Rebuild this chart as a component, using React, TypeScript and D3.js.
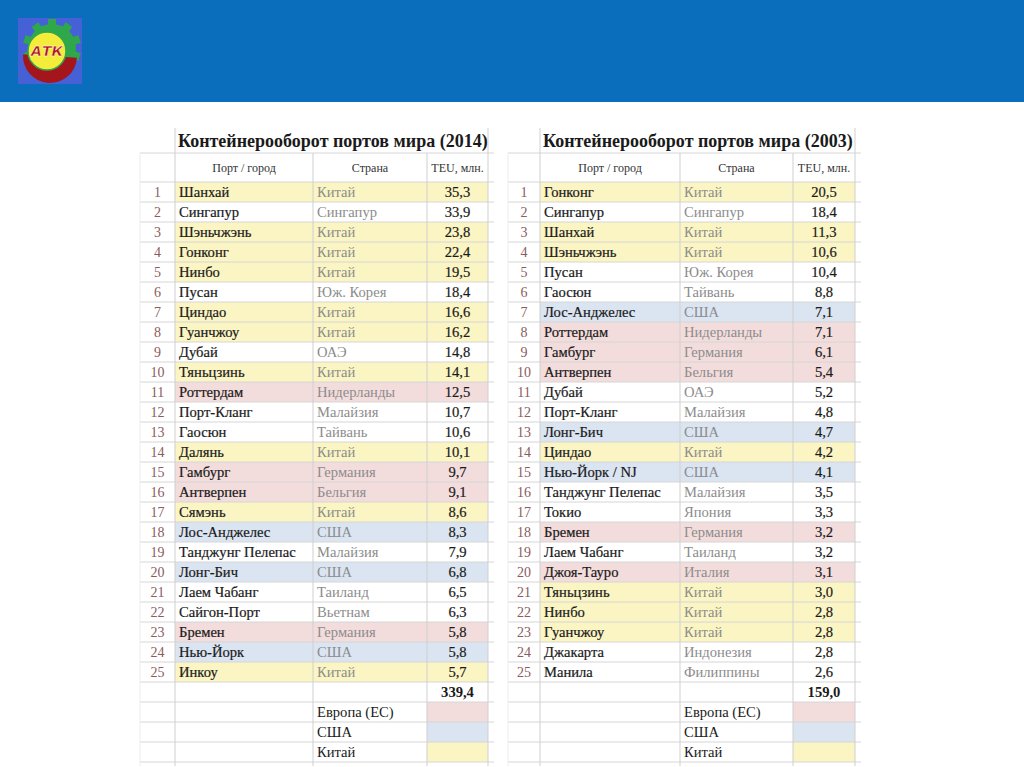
import React from 'react';
import * as d3 from 'd3';

// 2014
const ports2014 = ['Шанхай', 'Сингапур', 'Шэньчжэнь', 'Гонконг', 'Нинбо', 'Пусан', 'Циндао', 'Гуанчжоу', 'Дубай', 'Тяньцзинь', 'Роттердам', 'Порт-Кланг', 'Гаосюн', 'Далянь', 'Гамбург', 'Антверпен', 'Сямэнь', 'Лос-Анджелес', 'Танджунг Пелепас', 'Лонг-Бич', 'Лаем Чабанг', 'Сайгон-Порт', 'Бремен', 'Нью-Йорк', 'Инкоу'];
const countries2014 = ['Китай', 'Сингапур', 'Китай', 'Китай', 'Китай', 'Юж. Корея', 'Китай', 'Китай', 'ОАЭ', 'Китай', 'Нидерланды', 'Малайзия', 'Тайвань', 'Китай', 'Германия', 'Бельгия', 'Китай', 'США', 'Малайзия', 'США', 'Таиланд', 'Вьетнам', 'Германия', 'США', 'Китай'];
const teu2014 = ['35,3', '33,9', '23,8', '22,4', '19,5', '18,4', '16,6', '16,2', '14,8', '14,1', '12,5', '10,7', '10,6', '10,1', '9,7', '9,1', '8,6', '8,3', '7,9', '6,8', '6,5', '6,3', '5,8', '5,8', '5,7'];
const total2014 = '339,4';

// 2003
const ports2003 = ['Гонконг', 'Сингапур', 'Шанхай', 'Шэньчжэнь', 'Пусан', 'Гаосюн', 'Лос-Анджелес', 'Роттердам', 'Гамбург', 'Антверпен', 'Дубай', 'Порт-Кланг', 'Лонг-Бич', 'Циндао', 'Нью-Йорк / NJ', 'Танджунг Пелепас', 'Токио', 'Бремен', 'Лаем Чабанг', 'Джоя-Тауро', 'Тяньцзинь', 'Нинбо', 'Гуанчжоу', 'Джакарта', 'Манила'];
const countries2003 = ['Китай', 'Сингапур', 'Китай', 'Китай', 'Юж. Корея', 'Тайвань', 'США', 'Нидерланды', 'Германия', 'Бельгия', 'ОАЭ', 'Малайзия', 'США', 'Китай', 'США', 'Малайзия', 'Япония', 'Германия', 'Таиланд', 'Италия', 'Китай', 'Китай', 'Китай', 'Индонезия', 'Филиппины'];
const teu2003 = ['20,5', '18,4', '11,3', '10,6', '10,4', '8,8', '7,1', '7,1', '6,1', '5,4', '5,2', '4,8', '4,7', '4,2', '4,1', '3,5', '3,3', '3,2', '3,2', '3,1', '3,0', '2,8', '2,8', '2,8', '2,6'];
const total2003 = '159,0';

const legendLabels = ['Европа (ЕС)', 'США', 'Китай'];
const legendKeys = ['eu', 'us', 'cn'];
const headers = ['Порт / город', 'Страна', 'TEU, млн.'];

const euCountries = ['Нидерланды', 'Германия', 'Бельгия', 'Италия'];
const regionOf = (c: string) =>
  c === 'Китай' ? 'cn' : c === 'США' ? 'us' : euCountries.includes(c) ? 'eu' : 'none';

const fillColor = d3.scaleOrdinal<string, string>()
  .domain(['eu', 'us', 'cn', 'none'])
  .range(['#f3dcdc', '#dae5f1', '#fbf5c4', 'none']);

const serif = '"Liberation Serif", "DejaVu Serif", serif';

const rowY = d3.scaleBand<number>()
  .domain(d3.range(29))
  .range([182, 762]);

interface TableProps {
  x0: number;
  cols: number[]; // boundaries: index | port | country | teu | end
  title: string;
  ports: string[];
  countries: string[];
  teu: string[];
  total: string;
}

const Table = ({ x0, cols, title, ports, countries, teu, total }: TableProps) => {
  const [cIdx, cPort, cCountry, cTeu, cEnd] = cols;
  const bw = rowY.bandwidth();
  const lines = d3.range(30).map(i => (i < 29 ? rowY(i)! : rowY(28)! + bw));
  const dark = { fill: '#1a1a1a', stroke: '#1a1a1a', strokeWidth: 0.2 };
  return (
    <g>
      {/* fills */}
      {ports.map((p, i) => {
        const f = fillColor(regionOf(countries[i]));
        return f === 'none' ? null : (
          <rect key={'f' + i} x={cPort} y={rowY(i)} width={cEnd - cPort} height={bw} fill={f} />
        );
      })}
      {legendKeys.map((k, i) => (
        <rect key={'lf' + i} x={cTeu} y={rowY(26 + i)} width={cEnd - cTeu} height={bw} fill={fillColor(k)} />
      ))}
      {/* grid */}
      {lines.map((y, i) => (
        <line key={'h' + i} x1={x0} x2={cEnd + 6} y1={y} y2={y} stroke="#d6d6d6" strokeWidth={1} />
      ))}
      <line x1={x0} x2={cEnd + 6} y1={153} y2={153} stroke="#d6d6d6" />
      {[cPort, cCountry, cTeu, cEnd].map((x, i) => (
        <line key={'v' + i} x1={x} x2={x} y1={i === 0 || i === 3 ? 128 : 153} y2={766} stroke="#cfcfcf" />
      ))}
      <line x1={cIdx} x2={cIdx} y1={153} y2={766} stroke="#ececec" />
      {/* title */}
      <text x={cPort + 3} y={147} fontFamily={serif} fontWeight="bold" fontSize={18} fill="#1a1a1a">{title}</text>
      {/* headers */}
      {headers.map((h, i) => (
        <text key={'hd' + i} x={(cols[i + 1] + cols[i + 2]) / 2} y={172} textAnchor="middle"
          fontFamily={serif} fontSize={12} fill="#333">{h}</text>
      ))}
      {/* rows */}
      {ports.map((p, i) => {
        const y = rowY(i)! + bw / 2 + 5;
        return (
          <g key={'r' + i}>
            <text x={(cIdx + cPort) / 2} y={y} textAnchor="middle" fontFamily={serif} fontSize={14} fill="#8a5c5c">{i + 1}</text>
            <text x={cPort + 4} y={y} fontFamily={serif} fontSize={14.6} {...dark}>{p}</text>
            <text x={cCountry + 4} y={y} fontFamily={serif} fontSize={14.6} fill="#8c8c8c">{countries[i]}</text>
            <text x={(cTeu + cEnd) / 2} y={y} textAnchor="middle" fontFamily={serif} fontSize={14.6} {...dark}>{teu[i]}</text>
          </g>
        );
      })}
      <text x={(cTeu + cEnd) / 2} y={rowY(25)! + bw / 2 + 5} textAnchor="middle" fontFamily={serif}
        fontWeight="bold" fontSize={14.6} fill="#1a1a1a">{total}</text>
      {legendLabels.map((l, i) => (
        <text key={'ll' + i} x={cCountry + 4} y={rowY(26 + i)! + bw / 2 + 5} fontFamily={serif} fontSize={14.6} fill="#1a1a1a">{l}</text>
      ))}
    </g>
  );
};

const Logo = () => {
  const cx = 52, cy = 48;
  const teeth = d3.range(10).map(i => {
    const a = (i / 10) * Math.PI * 2 - Math.PI / 2;
    return { x: cx + Math.cos(a) * 25, y: cy + Math.sin(a) * 25, r: (a * 180) / Math.PI };
  });
  const redArc = d3.arc()({ innerRadius: 0, outerRadius: 27, startAngle: Math.PI * 0.52, endAngle: Math.PI * 1.52 } as any);
  return (
    <g>
      <rect x={18} y={18} width={64} height={66} fill="#4660d6" />
      {teeth.map((g, i) => (
        <rect key={i} x={g.x - 4} y={g.y - 4} width={8} height={8} fill="#2fa84c"
          transform={`rotate(${g.r},${g.x},${g.y})`} />
      ))}
      <circle cx={cx} cy={cy} r={24} fill="#2fa84c" />
      <path d={redArc!} transform="translate(50,56)" fill="#a5161c" />
      <circle cx={47} cy={51} r={19} fill="#f4ec3a" stroke="#2fa84c" strokeWidth={1.5} />
      <path d="M31,59 Q40,66 60,61" fill="none" stroke="#f4ec3a" strokeWidth={2} />
      <text x={47} y={56} textAnchor="middle" fontFamily="'DejaVu Sans', sans-serif" fontStyle="italic"
        fontWeight="bold" fontSize={14} fill="#b0141a" stroke="#ffffff" strokeWidth={0.4}>АТК</text>
    </g>
  );
};

export default function App() {
  return (
    <svg width={1024} height={767} style={{ position: 'absolute', left: 0, top: 0, display: 'block' }}>
      <rect x={0} y={0} width={1024} height={767} fill="#ffffff" />
      <rect x={0} y={0} width={1024} height={102} fill="#0a6ebd" />
      <Logo />
      <Table x0={140} cols={[140, 175, 313, 427, 488]} title="Контейнерооборот портов мира (2014)"
        ports={ports2014} countries={countries2014} teu={teu2014} total={total2014} />
      <Table x0={508} cols={[508, 540, 680, 793, 855]} title="Контейнерооборот портов мира (2003)"
        ports={ports2003} countries={countries2003} teu={teu2003} total={total2003} />
    </svg>
  );
}
